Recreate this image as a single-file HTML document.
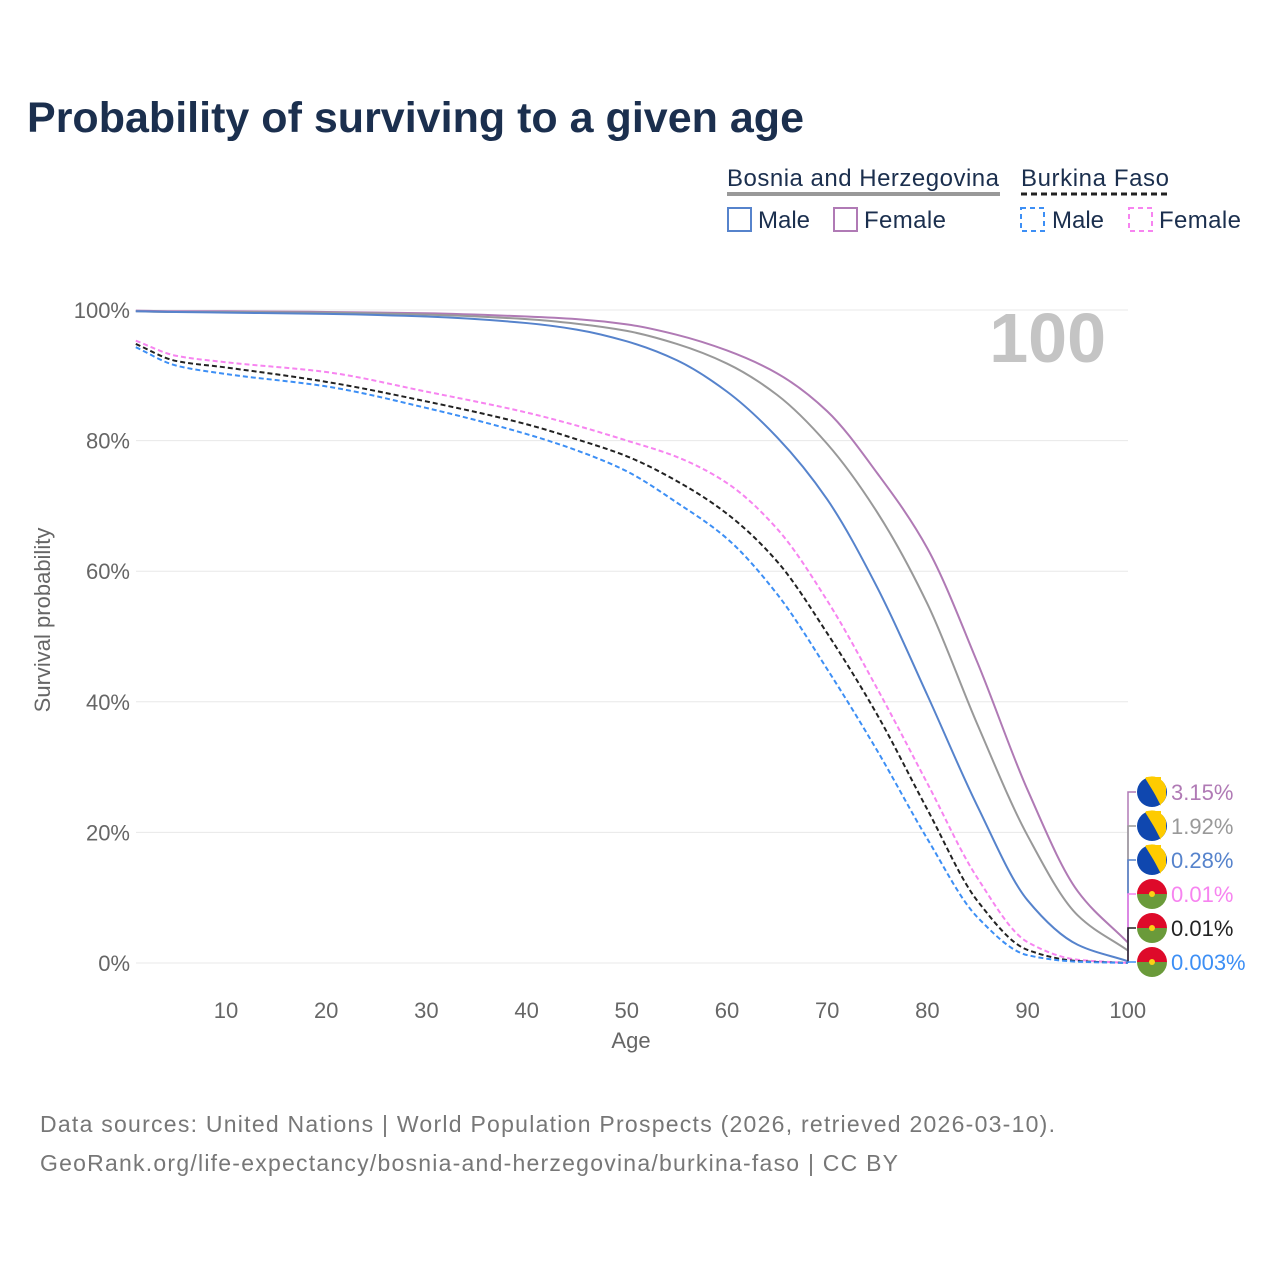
<!DOCTYPE html>
<html><head><meta charset="utf-8"><style>
body{margin:0;background:#fff;font-family:"Liberation Sans",sans-serif;}
</style></head><body>
<svg width="1280" height="1280" viewBox="0 0 1280 1280" xmlns="http://www.w3.org/2000/svg" id="chart" font-family="Liberation Sans, sans-serif">
<rect width="1280" height="1280" fill="#fff"/>
<text x="27" y="132" font-size="43" font-weight="bold" fill="#1b2f4e" textLength="777">Probability of surviving to a given age</text>
<g font-size="24" fill="#1b2f4e">
<text x="727" y="186" textLength="272">Bosnia and Herzegovina</text>
<line x1="727" y1="194" x2="1000" y2="194" stroke="#999" stroke-width="4"/>
<text x="1021" y="186" textLength="148">Burkina Faso</text>
<line x1="1021" y1="194" x2="1170" y2="194" stroke="#222" stroke-width="3" stroke-dasharray="6,4"/>
<rect x="728" y="208" width="23" height="23" fill="none" stroke="#5683cc" stroke-width="2"/>
<text x="758" y="228">Male</text>
<rect x="834" y="208" width="23" height="23" fill="none" stroke="#b07ab5" stroke-width="2"/>
<text x="864" y="228" textLength="82">Female</text>
<rect x="1021" y="208" width="23" height="23" fill="none" stroke="#3d8ff5" stroke-width="2" stroke-dasharray="5,4"/>
<text x="1052" y="228">Male</text>
<rect x="1129" y="208" width="23" height="23" fill="none" stroke="#f784f0" stroke-width="2" stroke-dasharray="5,4"/>
<text x="1159" y="228" textLength="82">Female</text>
</g>
<g id="grid"></g>
<text x="1106" y="362" font-size="70" font-weight="bold" fill="#c4c4c4" text-anchor="end">100</text>
<g id="series"></g>
<g id="ends"></g>
<text x="631" y="1048" font-size="22" fill="#666" text-anchor="middle">Age</text>
<text transform="translate(50,620) rotate(-90)" font-size="22" fill="#666" text-anchor="middle">Survival probability</text>
<text x="40" y="1132" font-size="23" fill="#777" textLength="1015">Data sources: United Nations | World Population Prospects (2026, retrieved 2026-03-10).</text>
<text x="40" y="1171" font-size="23" fill="#777" textLength="858">GeoRank.org/life-expectancy/bosnia-and-herzegovina/burkina-faso | CC BY</text>
</svg>
<script>
const ages=[1,5,10,20,30,40,45,50,55,60,65,70,75,80,85,90,95,100];
const bihFemale=[99.9,99.8,99.8,99.7,99.5,99.0,98.6,97.8,96.2,93.8,90.3,84.5,75,63.5,46,26.5,11,3.15];
const bihTotal=[99.8,99.7,99.7,99.6,99.3,98.6,97.9,96.8,94.8,91.8,87,79.5,69,55,36.5,19.5,7.3,1.92];
const bihMale=[99.8,99.7,99.6,99.4,99.0,98.0,97.0,95.2,92.3,87.5,80.5,71,57.5,41,24,9.6,2.8,0.28];
const bfFemale=[95.3,93,92,90.5,87.5,84.3,82.3,80,77.5,73.5,66.5,55.5,42,27.5,13,3.2,0.5,0.01];
const bfTotal=[94.8,92.2,91.2,89,86,82.5,80.2,77.6,73.8,68.8,61.5,50.5,38,23.5,9.5,2,0.3,0.01];
const bfMale=[94.3,91.5,90.2,88.3,85,81,78.5,75.3,70.5,65,56.5,45,32.5,19,7,1.2,0.2,0.003];
const yTicks=[0,20,40,60,80,100];
const xTicks=[10,20,30,40,50,60,70,80,90,100];
const endLabels=["3.15%","1.92%","0.28%","0.01%","0.01%","0.003%"];
const NS="http://www.w3.org/2000/svg";
const X=a=>135.8+(a-1)*10.02;
const Y=p=>963-p*6.53;
function mk(t,at,parent){const e=document.createElementNS(NS,t);for(const k in at)e.setAttribute(k,at[k]);parent.appendChild(e);return e;}
const grid=document.getElementById('grid');
yTicks.forEach(v=>{
 const l=mk('line',{x1:136,x2:1128,y1:Y(v),y2:Y(v),stroke:'#e8e8e8','stroke-width':1},grid);
 
 
 const t=mk('text',{x:130,y:Y(v)+8,'font-size':22,fill:'#666','text-anchor':'end'},grid);
 t.textContent=v+'%';
 
 
});
xTicks.forEach(v=>{
 const t=mk('text',{x:X(v),y:1018,'font-size':22,fill:'#666','text-anchor':'middle'},grid);
 t.textContent=v;
 
 
});
function path(vals){
 const n=ages.length;
 const xs=ages.map(X), ys=vals.map(Y);
 const d=[];for(let i=0;i<n-1;i++)d.push((ys[i+1]-ys[i])/(xs[i+1]-xs[i]));
 const m=[];
 for(let i=0;i<n;i++){
  if(i===0)m.push(d[0]);else if(i===n-1)m.push(d[n-2]);
  else{
   if(d[i-1]*d[i]<=0)m.push(0);
   else{const h0=xs[i]-xs[i-1],h1=xs[i+1]-xs[i];const w1=2*h1+h0,w2=h1+2*h0;m.push((w1+w2)/(w1/d[i-1]+w2/d[i]));}
  }
 }
 let s='M'+xs[0]+','+ys[0];
 for(let i=0;i<n-1;i++){
  const h=(xs[i+1]-xs[i])/3;
  s+=` C${xs[i]+h},${ys[i]+m[i]*h} ${xs[i+1]-h},${ys[i+1]-m[i+1]*h} ${xs[i+1]},${ys[i+1]}`;
 }
 return s;
}
const S=document.getElementById('series');
const defs=[[bihFemale,'#b07ab5',null,'series-bih-female'],[bihTotal,'#999',null,'series-bih-total'],[bihMale,'#5683cc',null,'series-bih-male'],[bfFemale,'#f784f0','5,3','series-bf-female'],[bfTotal,'#222','5,3','series-bf-total'],[bfMale,'#3d8ff5','5,3','series-bf-male']];
defs.forEach(([v,c,da,n])=>{
 const e=mk('path',{d:path(v),fill:'none',stroke:c,'stroke-width':2},S);
 if(da)e.setAttribute('stroke-dasharray',da);
 
 
});
const E=document.getElementById('ends');
defs.forEach(([v,c],i)=>{
 const ly=792+i*34;
 const ey=Y(v[v.length-1]);
 mk('polyline',{points:`1128,${ey} 1128,${ly} 1136,${ly}`,fill:'none',stroke:c,'stroke-width':1.5},E);
 const cx=1152;
 const g=mk('g',{},E);
 
 
 if(i<3){
  mk('circle',{cx:cx,cy:ly,r:15,fill:'#0f47af'},g);
  mk('path',{d:`M${cx-6},${ly-15} L${cx+9},${ly-15} L${cx+9},${ly+14} Z`,fill:'#fecb00'},g);
  mk('path',{d:`M${cx-7},${ly-14} A15,15 0 0 1 ${cx+14},${ly-5} L${cx+14},${ly+5} A15,15 0 0 1 ${cx+9},${ly+12} Z`,fill:'#fecb00'},g);
 }else{
  mk('path',{d:`M${cx-15},${ly} A15,15 0 0 1 ${cx+15},${ly} Z`,fill:'#de0a2a'},g);
  mk('path',{d:`M${cx-15},${ly} A15,15 0 0 0 ${cx+15},${ly} Z`,fill:'#6a9a3a'},g);
  mk('circle',{cx:cx,cy:ly,r:3,fill:'#fcd116'},g);
 }
 const t=mk('text',{x:1171,y:ly+8,'font-size':22,fill:c},E);
 t.textContent=endLabels[i];
 
 
});
</script>
</body></html>
